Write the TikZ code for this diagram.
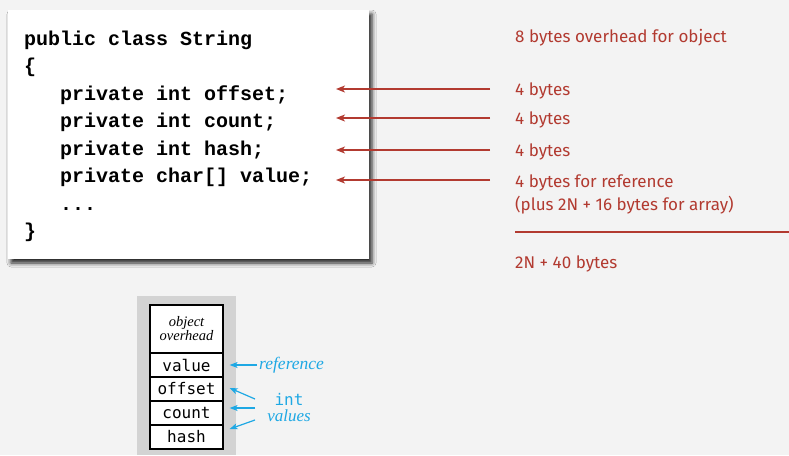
\documentclass[tikz,border=0pt]{standalone}
\usepackage{fontspec}
\usetikzlibrary{arrows.meta,shadows.blur}
\newfontfamily\codefont{Liberation Mono}
\newfontfamily\notefont{Fira Sans}
\newfontfamily\cellfont{DejaVu Sans Mono}
\newfontfamily\labelfont{Liberation Serif}
\definecolor{pagebg}{HTML}{F3F3F3}
\definecolor{notered}{RGB}{178,58,48}
\definecolor{refblue}{RGB}{30,168,228}
\definecolor{panelgray}{HTML}{D3D3D3}
\begin{document}
\begin{tikzpicture}[x=1pt,y=-1pt,
  codeline/.style={anchor=base west,inner sep=0pt,font=\codefont\bfseries\fontsize{20}{20}\selectfont},
  note/.style={anchor=base west,inner sep=0pt,text=notered,font=\notefont\fontsize{17}{17}\selectfont},
  redarrow/.style={draw=notered,line width=1.3pt,-{Stealth[length=9pt,width=7pt,inset=2.5pt]}},
  cell/.style={draw=black,line width=1.2pt,fill=white,minimum width=73pt,minimum height=24pt,inner sep=0pt,font=\cellfont\fontsize{16}{16}\selectfont},
  bluearrow/.style={draw=refblue,line width=1.2pt,-{Stealth[length=8pt,width=6pt,inset=2pt]}},
  bluelabel/.style={inner sep=0pt,text=refblue}]
\fill[pagebg] (0,0) rectangle (789,455);
\useasboundingbox (0,0) rectangle (789,455);

% class declaration panel
\node[fill=white,minimum width=361pt,minimum height=249pt,inner sep=0pt,
  blur shadow={shadow xshift=3.5pt,shadow yshift=-4pt,shadow blur radius=4pt,shadow opacity=85}]
  (code) at (188,134.5) {};
\node[codeline] (l1) at (24,45) {public class String};
\node[codeline] (l2) at (24,72.5) {\{};
\node[codeline] (l3) at (60,100) {private int offset;};
\node[codeline] (l4) at (60,127.5) {private int count;};
\node[codeline] (l5) at (60,155) {private int hash;};
\node[codeline] (l6) at (60,182.5) {private char[] value;};
\node[codeline] (l7) at (60,210) {...};
\node[codeline] (l8) at (24,237.5) {\}};

% memory annotations
\node[note] (n0) at (515,42) {8 bytes overhead for object};
\node[note] (n1) at (515,95) {4 bytes};
\node[note] (n2) at (515,124) {4 bytes};
\node[note] (n3) at (515,156) {4 bytes};
\node[note] (n4) at (515,187) {4 bytes for reference};
\node[note] (n5) at (515,210) {(plus 2N + 16 bytes for array)};
\node[note] (n6) at (515,268) {2N + 40 bytes};

\coordinate (s1) at (490,89);  \coordinate (t1) at (336,89);
\coordinate (s2) at (490,118); \coordinate (t2) at (336,118);
\coordinate (s3) at (490,150); \coordinate (t3) at (336,150);
\coordinate (s4) at (490,180); \coordinate (t4) at (336,180);
\draw[redarrow] (s1) -- (t1);
\draw[redarrow] (s2) -- (t2);
\draw[redarrow] (s3) -- (t3);
\draw[redarrow] (s4) -- (t4);

\coordinate (sumL) at (515,232); \coordinate (sumR) at (789,232);
\draw[notered,line width=1.3pt] (sumL) -- (sumR);

% object layout
\fill[panelgray] (137,296) rectangle (236,455);
\node[cell,minimum height=48pt,align=center,font=\labelfont\itshape\fontsize{14.5}{15}\selectfont] (ovh) at (186.5,329) {object\\[-1pt]overhead};
\node[cell] (val) at (186.5,365) {value};
\node[cell] (off) at (186.5,389) {offset};
\node[cell] (cnt) at (186.5,413) {count};
\node[cell] (hsh) at (186.5,437) {hash};

\node[bluelabel,anchor=west,font=\labelfont\itshape\fontsize{17.5}{17}\selectfont] (reflbl) at (259,365) {reference};
\node[bluelabel,anchor=base,font=\cellfont\fontsize{16}{16}\selectfont] (intlbl) at (289,405) {int};
\node[bluelabel,anchor=base,font=\labelfont\itshape\fontsize{17}{17}\selectfont] (vallbl) at (289,421) {values};

\draw[bluearrow] ([xshift=-2pt]reflbl.west) -- ([xshift=6pt]val.east);
\coordinate (b1) at (255,399);
\coordinate (b2) at (255,408);
\coordinate (b3) at (255,420);
\draw[bluearrow] (b1) -- ([xshift=6pt,yshift=1pt]off.east);
\draw[bluearrow] (b2) -- ([xshift=6pt,yshift=5pt]cnt.east);
\draw[bluearrow] (b3) -- ([xshift=6pt,yshift=8pt]hsh.east);
\end{tikzpicture}
\end{document}
